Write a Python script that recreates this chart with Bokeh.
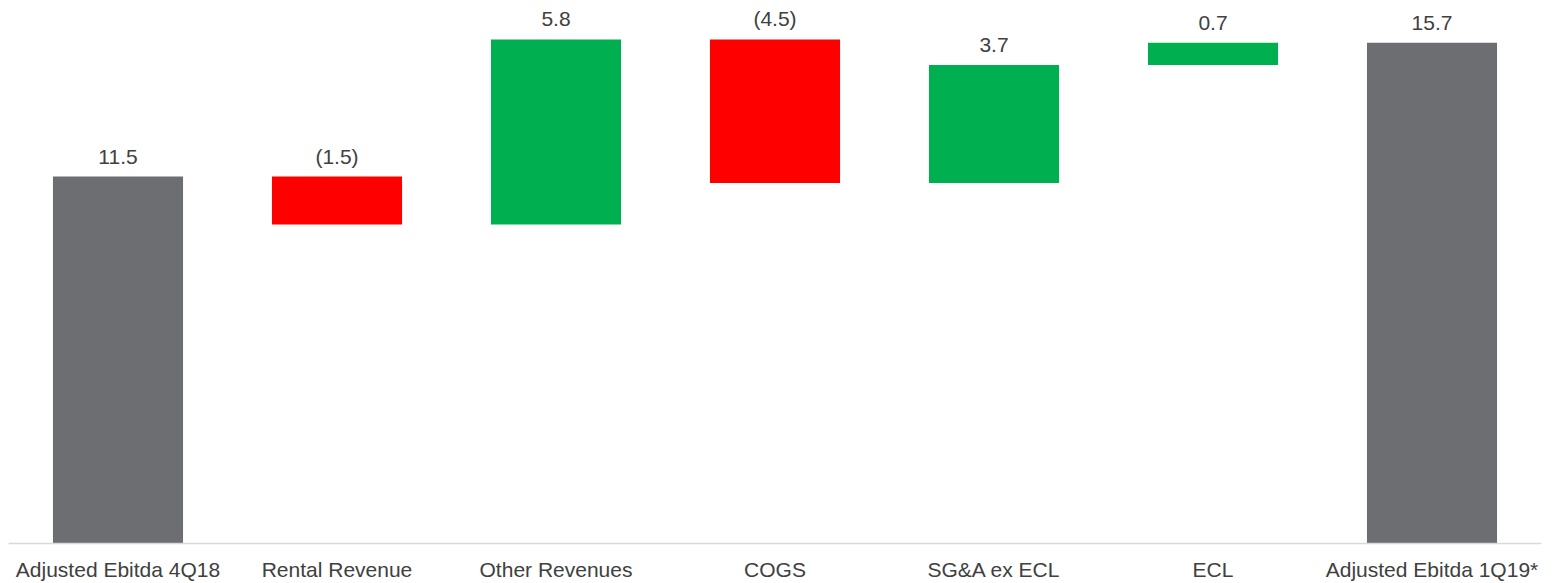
from bokeh.plotting import figure
from bokeh.models import ColumnDataSource, FactorRange, Range1d, LabelSet
from bokeh.core.properties import value
from bokeh.embed import file_html
from bokeh.resources import INLINE

categories = ["Adjusted Ebitda 4Q18", "Rental Revenue", "Other Revenues", "COGS",
              "SG&A ex ECL", "ECL", "Adjusted Ebitda 1Q19*"]
values = [11.5, -1.5, 5.8, -4.5, 3.7, 0.7, 15.7]
kinds = ["total", "delta", "delta", "delta", "delta", "delta", "total"]

COLOR_TOTAL = "#6D6E71"
COLOR_POS = "#00B050"
COLOR_NEG = "#FF0000"
TEXT_COLOR = "#404040"
FONT = "Liberation Sans"

lows, highs, colors, labels = [], [], [], []
running = 0.0
for v, k in zip(values, kinds):
    if k == "total":
        lo, hi = 0.0, v
        running = v
        colors.append(COLOR_TOTAL)
    else:
        start, end = running, running + v
        lo, hi = min(start, end), max(start, end)
        running = end
        colors.append(COLOR_POS if v >= 0 else COLOR_NEG)
    lows.append(lo)
    highs.append(hi)
    labels.append(f"({abs(v):.1f})" if v < 0 else f"{v:.1f}")

src = ColumnDataSource(dict(cat=categories, low=lows, high=highs, color=colors, label=labels))

p = figure(x_range=FactorRange(*categories), y_range=Range1d(0, 16.77),
           width=1554, height=583, output_backend="svg", toolbar_location=None,
           min_border_left=8, min_border_right=13, min_border_top=8, min_border_bottom=40)

p.vbar(x="cat", bottom="low", top="high", width=0.594, color="color", source=src, line_color=None)

lbl = LabelSet(x="cat", y="high", text="label", source=src, y_offset=13,
               text_align="center", text_baseline="alphabetic",
               text_font=value(FONT), text_font_size="21px", text_color=TEXT_COLOR)
p.add_layout(lbl)

p.yaxis.visible = False
p.xgrid.visible = False
p.ygrid.visible = False
p.outline_line_color = None
p.xaxis.axis_line_color = "#D9D9D9"
p.xaxis.axis_line_width = 1.5
p.xaxis.major_tick_line_color = None
p.xaxis.minor_tick_line_color = None
p.xaxis.major_tick_out = 0
p.xaxis.major_tick_in = 0
p.xaxis.major_label_standoff = 14
p.xaxis.major_label_text_font = FONT
p.xaxis.major_label_text_font_size = "21px"
p.xaxis.major_label_text_color = TEXT_COLOR

open("out.html", "w").write(file_html(p, INLINE))
